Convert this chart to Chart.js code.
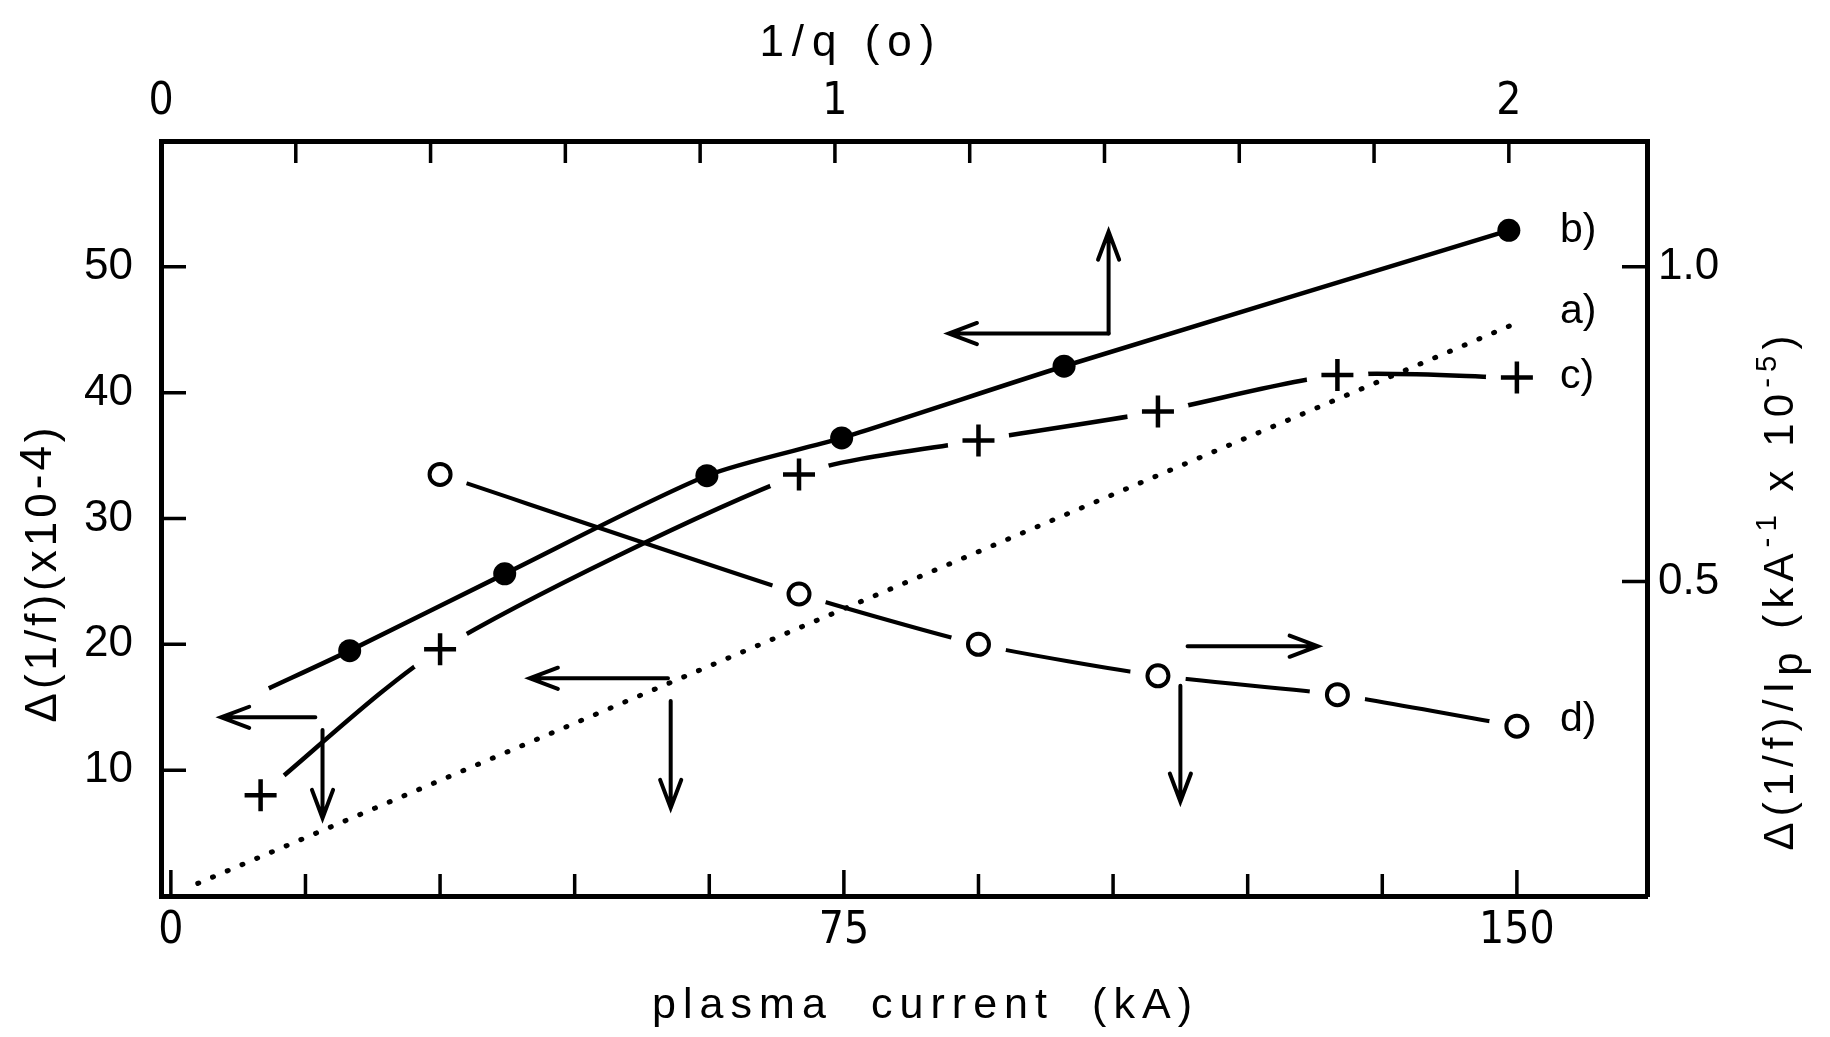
<!DOCTYPE html>
<html>
<head>
<meta charset="utf-8">
<title>Δ(1/f) vs plasma current</title>
<script src="https://cdn.jsdelivr.net/npm/chart.js@4.4.0/dist/chart.umd.min.js"></script>
<style>
  html, body { margin: 0; padding: 0; background: #fff; }
  #wrap { width: 1830px; height: 1037px; position: relative; }
</style>
</head>
<body>
<div id="wrap"><canvas id="chart"></canvas></div>
<script>
// a) dotted line: delta(1/f) against plasma current (kA), left axis
const aCurrent = [3, 150.5];
const aDelta = [1.0, 45.7];

// b) filled dots: delta(1/f) against 1/q(0) (top axis); first entry is where the curve starts, no dot there
const bInvQ = [0.16, 0.28, 0.51, 0.81, 1.01, 1.34, 2.0];
const bDelta = [16.5, 19.5, 25.6, 33.4, 36.4, 42.1, 52.9];
const bDot = [false, true, true, true, true, true, true];

// c) crosses: delta(1/f) against plasma current
const cCurrent = [10, 30, 70, 90, 110, 130, 150];
const cDelta = [8.0, 19.6, 33.5, 36.2, 38.5, 41.4, 41.2];

// d) open circles: delta(1/f)/Ip against plasma current, right axis
const dCurrent = [30, 70, 90, 110, 130, 150];
const dPerIp = [0.67, 0.48, 0.40, 0.35, 0.32, 0.27];

// axis ticks
const currentTicks = [0, 15, 30, 45, 60, 75, 90, 105, 120, 135, 150];
const currentLabels = [0, 75, 150];
const invQTicks = [0, 0.2, 0.4, 0.6, 0.8, 1, 1.2, 1.4, 1.6, 1.8, 2];
const invQLabels = [0, 1, 2];
const deltaTicks = [10, 20, 30, 40, 50];
const perIpTicks = [0.5, 1.0];

// arrows telling which axes a curve belongs to, in (kA, left axis) units: x1, y1 -> x2, y2 (head at 2)
const arrows = [
  [104.5, 44.7, 104.5, 52.8],
  [104.5, 44.7, 86.7, 44.7],
  [55.4, 17.3, 40.0, 17.3],
  [55.7, 15.5, 55.7, 7.0],
  [16.1, 14.2, 5.6, 14.2],
  [16.9, 13.2, 16.9, 6.2],
  [113.3, 19.85, 127.8, 19.85],
  [112.5, 16.7, 112.5, 7.5]
];

// curve names at the right end
const curveNames = ['b)', 'a)', 'c)', 'd)'];
const curveNameY = [52.9, 46.4, 41.3, 14.0];
const curveNameX = 154.8;

const sans = "'Liberation Sans', 'DejaVu Sans', sans-serif";
const narrow = "'Liberation Sans Narrow', 'DejaVu Sans Condensed', 'Liberation Sans', sans-serif";

const pts = (xs, ys) => xs.map((x, i) => ({ x: x, y: ys[i] }));

function drawSpaced(ctx, parts, cx, cy, size, family, width, angle) {
  ctx.save();
  ctx.translate(cx, cy);
  ctx.rotate(angle);
  ctx.fillStyle = '#000';
  ctx.textBaseline = 'alphabetic';
  ctx.textAlign = 'left';
  const glyphs = [];
  parts.forEach(p => {
    const s = size * (p.scale || 1);
    for (const ch of p.t) glyphs.push({ ch: ch, s: s, dy: (p.dy || 0) * size });
  });
  let natural = 0;
  glyphs.forEach(g => {
    ctx.font = g.s + 'px ' + family;
    g.w = ctx.measureText(g.ch).width;
    natural += g.w;
  });
  const gap = glyphs.length > 1 ? (width - natural) / (glyphs.length - 1) : 0;
  let x = -width / 2;
  const base = size * 0.36;
  glyphs.forEach(g => {
    ctx.font = g.s + 'px ' + family;
    ctx.fillText(g.ch, x, base + g.dy);
    x += g.w + gap;
  });
  ctx.restore();
}

const innerTicks = {
  id: 'innerTicks',
  afterDraw(chart) {
    const { ctx, chartArea: a, scales } = chart;
    ctx.save();
    ctx.strokeStyle = '#000';
    ctx.lineWidth = 3.5;
    ctx.beginPath();
    scales.x.ticks.forEach(t => {
      const px = scales.x.getPixelForValue(t.value);
      const len = currentLabels.includes(t.value) ? 26 : 22;
      ctx.moveTo(px, a.bottom);
      ctx.lineTo(px, a.bottom - len);
    });
    scales.xTop.ticks.forEach(t => {
      const px = scales.xTop.getPixelForValue(t.value);
      ctx.moveTo(px, a.top);
      ctx.lineTo(px, a.top + 22);
    });
    scales.y.ticks.forEach(t => {
      const py = scales.y.getPixelForValue(t.value);
      ctx.moveTo(a.left, py);
      ctx.lineTo(a.left + 25, py);
    });
    scales.yRight.ticks.forEach(t => {
      const py = scales.yRight.getPixelForValue(t.value);
      ctx.moveTo(a.right, py);
      ctx.lineTo(a.right - 25, py);
    });
    ctx.stroke();
    ctx.restore();
  }
};

const notes = {
  id: 'notes',
  afterDatasetsDraw(chart) {
    const { ctx, scales } = chart;
    const sx = scales.x, sy = scales.y;
    ctx.save();
    ctx.strokeStyle = '#000';
    ctx.lineWidth = 4;
    ctx.lineCap = 'round';
    arrows.forEach(r => {
      const x1 = sx.getPixelForValue(r[0]), y1 = sy.getPixelForValue(r[1]);
      const x2 = sx.getPixelForValue(r[2]), y2 = sy.getPixelForValue(r[3]);
      const ang = Math.atan2(y2 - y1, x2 - x1);
      const hl = 30, hw = 0.36;
      ctx.beginPath();
      ctx.moveTo(x1, y1);
      ctx.lineTo(x2, y2);
      ctx.moveTo(x2 - hl * Math.cos(ang - hw), y2 - hl * Math.sin(ang - hw));
      ctx.lineTo(x2, y2);
      ctx.lineTo(x2 - hl * Math.cos(ang + hw), y2 - hl * Math.sin(ang + hw));
      ctx.stroke();
    });
    ctx.fillStyle = '#000';
    ctx.font = '41px ' + sans;
    ctx.textAlign = 'left';
    ctx.textBaseline = 'middle';
    curveNames.forEach((n, i) => {
      ctx.fillText(n, sx.getPixelForValue(curveNameX), sy.getPixelForValue(curveNameY[i]));
    });
    ctx.restore();
  },
  afterDraw(chart) {
    const ctx = chart.ctx;
    const top = chart.scales.xTop;
    drawSpaced(ctx, [{ t: '1/q (o)' }], top.getPixelForValue(1) + 12, 40, 44, sans, 175, 0);
    drawSpaced(ctx, [{ t: 'plasma  current  (kA)' }], 922, 1003, 43, sans, 540, 0);
    drawSpaced(ctx, [{ t: 'Δ(1/f)(x10' }, { t: '-4', dy: -0.12 }, { t: ')' }],
      40, 575, 44, sans, 295, -Math.PI / 2);
    drawSpaced(ctx, [{ t: 'Δ(1/f)/I' }, { t: 'p', dy: 0.22 }, { t: ' (kA' },
      { t: '-1', scale: 0.7, dy: -0.4 }, { t: ' x 10' }, { t: '-5', scale: 0.7, dy: -0.4 }, { t: ')' }],
      1778, 593, 42, sans, 515, -Math.PI / 2);
  }
};

function axis(position, min, max, tickValues, labelFn, fit, padding, family) {
  return {
    type: 'linear',
    position: position,
    min: min,
    max: max,
    afterBuildTicks: s => { s.ticks = tickValues.map(v => ({ value: v })); },
    afterFit: fit,
    grid: { display: false, drawTicks: false },
    border: { display: true, width: 5, color: '#000' },
    ticks: {
      autoSkip: false,
      maxRotation: 0,
      padding: padding,
      color: '#000',
      font: { family: family, size: 44, lineHeight: 1 },
      callback: labelFn
    }
  };
}

new Chart(document.getElementById('chart').getContext('2d'), {
  type: 'line',
  data: {
    datasets: [
      {
        label: 'b)', data: pts(bInvQ, bDelta), xAxisID: 'xTop', yAxisID: 'y',
        borderColor: '#000', borderWidth: 4.5, tension: 0.25,
        pointRadius: bDot.map(m => m ? 11.5 : 0), pointBackgroundColor: '#000', pointBorderWidth: 0,
        order: 0
      },
      {
        label: 'a)', data: pts(aCurrent, aDelta), xAxisID: 'x', yAxisID: 'y',
        borderColor: '#000', borderWidth: 5, borderDash: [1, 15], borderCapStyle: 'round',
        pointRadius: 0, order: 1
      },
      {
        label: 'c) marks', data: pts(cCurrent, cDelta), xAxisID: 'x', yAxisID: 'y',
        showLine: false, pointStyle: 'cross', pointRadius: 16, pointBorderWidth: 4.5,
        pointBorderColor: '#000', order: 2
      },
      {
        label: 'd) marks', data: pts(dCurrent, dPerIp), xAxisID: 'x', yAxisID: 'yRight',
        showLine: false, pointStyle: 'circle', pointRadius: 10.5, pointBorderWidth: 4,
        pointBorderColor: '#000', pointBackgroundColor: '#fff', order: 2
      },
      {
        label: 'c) gaps', data: pts(cCurrent, cDelta), xAxisID: 'x', yAxisID: 'y',
        showLine: false, pointRadius: 31, pointBorderWidth: 0, pointBackgroundColor: '#fff', order: 3
      },
      {
        label: 'd) gaps', data: pts(dCurrent, dPerIp), xAxisID: 'x', yAxisID: 'yRight',
        showLine: false, pointRadius: 28, pointBorderWidth: 0, pointBackgroundColor: '#fff', order: 3
      },
      {
        label: 'c)', data: pts(cCurrent, cDelta), xAxisID: 'x', yAxisID: 'y',
        borderColor: '#000', borderWidth: 4.5, tension: 0.25,
        pointRadius: 0, order: 4
      },
      {
        label: 'd)', data: pts(dCurrent, dPerIp), xAxisID: 'x', yAxisID: 'yRight',
        borderColor: '#000', borderWidth: 4, tension: 0.2,
        pointRadius: 0, order: 4
      }
    ]
  },
  options: {
    responsive: true,
    maintainAspectRatio: false,
    devicePixelRatio: 1,
    animation: false,
    events: [],
    layout: { padding: 0 },
    plugins: { legend: { display: false }, tooltip: { enabled: false } },
    scales: {
      x: axis('bottom', -1.1, 164.5, currentTicks,
        v => currentLabels.includes(v) ? String(v) : '', s => { s.height = 141; }, 14, narrow),
      xTop: axis('top', 0, 2.205, invQTicks,
        v => invQLabels.includes(v) ? String(v) : '', s => { s.height = 141; }, 16, narrow),
      y: axis('left', 0, 60, deltaTicks, v => String(v), s => { s.width = 161; }, 28, sans),
      yRight: axis('right', 0, 1.2, perIpTicks, v => v.toFixed(1), s => { s.width = 183; }, 11, sans)
    }
  },
  plugins: [innerTicks, notes]
});
</script>
</body>
</html>
